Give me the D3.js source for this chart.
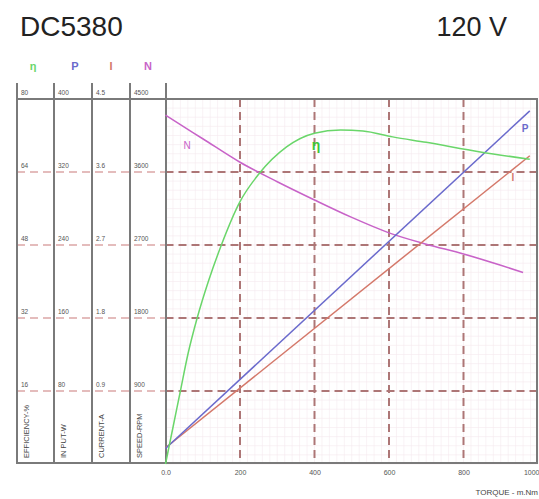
<!DOCTYPE html>
<html><head><meta charset="utf-8">
<script src="https://cdn.jsdelivr.net/npm/d3@7"></script>
<style>body{margin:0;background:#fff}svg{display:block}text{font-family:"Liberation Sans",Arial,sans-serif}</style>
</head><body>
<svg id="c" width="539" height="499"></svg>
<script>
// ---- data ----
const title = "DC5380";
const voltage = "120 V";
const xTicks = [0, 200, 400, 600, 800, 1000];
const xTickLabels = ["0.0", "200", "400", "600", "800", "1000"];
const effTicks = [16, 32, 48, 64, 80];
const powerTicks = [80, 160, 240, 320, 400];
const currentTicks = [0.9, 1.8, 2.7, 3.6, 4.5];
const speedTicks = [900, 1800, 2700, 3600, 4500];
const axisNames = ["EFFICIENCY-%", "IN PUT-W", "CURRENT-A", "SPEED-RPM"];
const legendSymbols = ["η", "P", "I", "N"];

const effTorque = [0, 20, 40, 60, 85, 115, 150, 200, 250, 325, 400, 470, 530, 610, 700, 845, 978];
const effValues = [0, 8, 16, 24, 32, 40, 48, 57.5, 63.5, 69.5, 72.5, 73.2, 73, 71.7, 70.5, 68.4, 66.8];
const speedTorque = [0, 100, 200, 300, 400, 500, 600, 700, 800, 900, 960];
const speedValues = [4300, 4010, 3720, 3480, 3255, 3040, 2850, 2710, 2590, 2450, 2360];
const powerTorque = [0, 978];
const powerValues = [17, 387];
const currentTorque = [0, 978];
const currentValues = [0.2, 3.8];

// ---- layout ----
const svg = d3.select("#c");
const plotL = 165.5, plotR = 538, plotT = 99, plotB = 464;
const colX = [17, 54, 92, 130, 166];
const x = d3.scaleLinear().domain([0, 1000]).range([plotL, plotR]);
const yEff = d3.scaleLinear().domain([0, 80]).range([plotB, plotT]);
const yPow = d3.scaleLinear().domain([0, 400]).range([plotB, plotT]);
const yCur = d3.scaleLinear().domain([0, 4.5]).range([plotB, plotT]);
const ySpd = d3.scaleLinear().domain([0, 4500]).range([plotB, plotT]);

const colors = {eff: "#6ad66a", pow: "#6a6acc", cur: "#d4786a", spd: "#c863c8", grid: "#ad7676", axis: "#7a7a7a"};

// title
svg.append("text").attr("x", 20).attr("y", 36).attr("font-size", 28).attr("fill", "#222").text(title);
svg.append("text").attr("x", 507).attr("y", 36).attr("font-size", 27).attr("text-anchor", "end").attr("fill", "#222").text(voltage);

// minor grid
const minor = svg.append("g").attr("stroke", "#f5eaef").attr("stroke-width", 0.6);
d3.range(0, 1000.1, 20).forEach(v => minor.append("line").attr("x1", x(v)).attr("x2", x(v)).attr("y1", plotT).attr("y2", plotB));
d3.range(0, 80.1, 2).forEach(v => minor.append("line").attr("x1", plotL).attr("x2", plotR).attr("y1", yEff(v)).attr("y2", yEff(v)));

// dashed major grid
const grid = svg.append("g");
effTicks.slice(0, 4).forEach(v => {
  grid.append("line").attr("x1", colX[0]).attr("x2", plotL).attr("y1", yEff(v)).attr("y2", yEff(v))
    .attr("stroke", "#dba6a6").attr("stroke-width", 1.5).attr("stroke-dasharray", "8,5");
  grid.append("line").attr("x1", plotL).attr("x2", plotR).attr("y1", yEff(v)).attr("y2", yEff(v))
    .attr("stroke", colors.grid).attr("stroke-width", 2).attr("stroke-dasharray", "8,5");
});
xTicks.slice(1, 5).forEach(v => {
  grid.append("line").attr("x1", x(v)).attr("x2", x(v)).attr("y1", plotT).attr("y2", plotB)
    .attr("stroke", colors.grid).attr("stroke-width", 2).attr("stroke-dasharray", "8,5");
});

// frame
const frame = svg.append("g").attr("stroke", colors.axis).attr("stroke-width", 2).attr("fill", "none");
colX.forEach(cx => frame.append("line").attr("x1", cx).attr("x2", cx).attr("y1", 83).attr("y2", plotB - 1));
frame.append("line").attr("x1", colX[0]).attr("x2", plotR).attr("y1", plotT).attr("y2", plotT);
frame.append("line").attr("x1", colX[0] - 1).attr("x2", plotR).attr("y1", plotB - 1).attr("y2", plotB - 1);
frame.append("line").attr("x1", plotR - 1).attr("x2", plotR - 1).attr("y1", plotT).attr("y2", plotB - 1);

// column tick labels
const colTicks = [effTicks, powerTicks, currentTicks, speedTicks];
const colScales = [yEff, yPow, yCur, ySpd];
colTicks.forEach((ticks, i) => {
  ticks.forEach(v => {
    svg.append("text").attr("x", colX[i] + 4).attr("y", colScales[i](v) - 4)
      .attr("font-size", 6.5).attr("fill", "#555").text(String(v));
  });
  svg.append("text").attr("transform", `translate(${colX[i] + 12},458) rotate(-90)`)
    .attr("font-size", 7.5).attr("fill", "#444").text(axisNames[i]);
});

// legend symbols above columns
const legColors = [colors.eff, colors.pow, colors.cur, colors.spd];
const legX = [33, 75, 111, 148];
legendSymbols.forEach((s, i) => {
  svg.append("text").attr("x", legX[i]).attr("y", 70).attr("text-anchor", "middle")
    .attr("font-size", 11).attr("font-weight", "bold").attr("fill", legColors[i]).text(s);
});

// x axis labels
const xAxis = d3.axisBottom(x).tickValues(xTicks).tickSize(0).tickPadding(0)
  .tickFormat((d, i) => xTickLabels[i]);
const xg = svg.append("g").attr("transform", `translate(0,${plotB + 6})`).call(xAxis);
xg.select(".domain").remove();
xg.selectAll("text").attr("font-size", 7).attr("fill", "#555").attr("font-family", "Liberation Sans, Arial, sans-serif")
  .attr("text-anchor", (d, i) => i === xTicks.length - 1 ? "end" : "middle")
  .attr("dx", (d, i) => i === xTicks.length - 1 ? 1 : 0);
svg.append("text").attr("x", 538).attr("y", 495).attr("text-anchor", "end").attr("font-size", 8).attr("fill", "#444").text("TORQUE - m.Nm");

// curves
const drawLine = (tx, vals, ys, color, curve) => {
  const pts = tx.map((t, i) => [t, vals[i]]);
  svg.append("path").datum(pts)
    .attr("d", d3.line().x(d => x(d[0])).y(d => ys(d[1])).curve(curve))
    .attr("fill", "none").attr("stroke", color).attr("stroke-width", 1.5);
};
drawLine(speedTorque, speedValues, ySpd, colors.spd, d3.curveMonotoneX);
drawLine(currentTorque, currentValues, yCur, colors.cur, d3.curveLinear);
drawLine(powerTorque, powerValues, yPow, colors.pow, d3.curveLinear);
drawLine(effTorque, effValues, yEff, colors.eff, d3.curveMonotoneX);

// curve labels
svg.append("text").attr("x", 187).attr("y", 149).attr("text-anchor", "middle").attr("font-size", 10).attr("fill", colors.spd).text("N");
svg.append("text").attr("x", 316).attr("y", 150).attr("text-anchor", "middle").attr("font-size", 14).attr("font-weight", "bold").attr("fill", "#3cc83c").text("η");
svg.append("text").attr("x", 525).attr("y", 132).attr("text-anchor", "middle").attr("font-size", 10).attr("font-weight", "bold").attr("fill", colors.pow).text("P");
svg.append("text").attr("x", 513).attr("y", 181).attr("text-anchor", "middle").attr("font-size", 10).attr("font-weight", "bold").attr("fill", colors.cur).text("I");
</script>
</body></html>
